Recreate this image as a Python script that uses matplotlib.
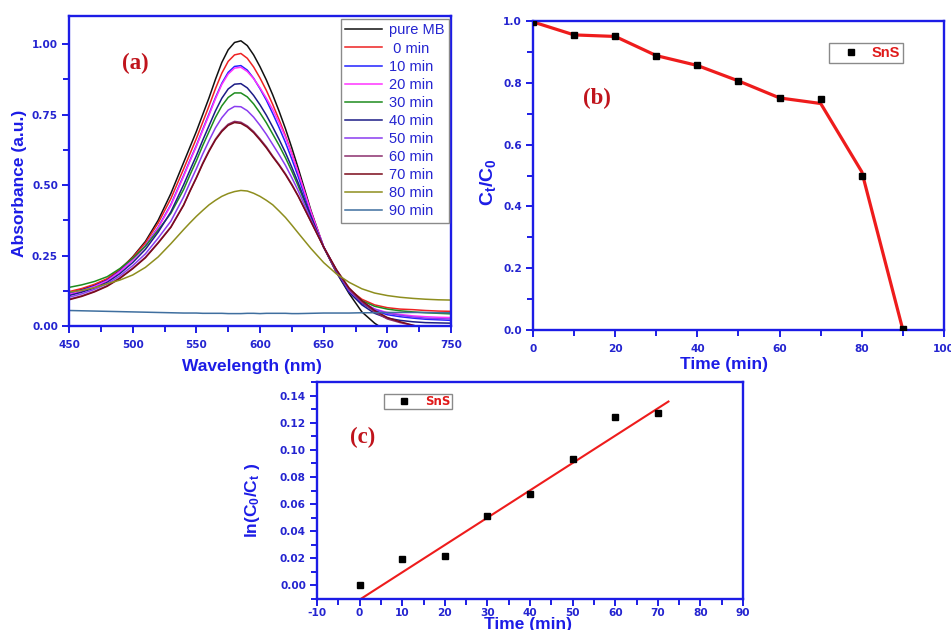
import matplotlib
matplotlib.use('Agg')
import matplotlib.pyplot as plt
from matplotlib.ticker import MultipleLocator, FormatStrFormatter
from matplotlib.lines import Line2D

# ---------------- data ----------------
# wavelengths read every 10 nm on the tails and every 5 nm around the band
wavelength = (list(range(450, 540, 10)) + list(range(540, 631, 5))
              + list(range(640, 751, 10)))
spectra_labels = ["pure MB", " 0 min", "10 min", "20 min", "30 min", "40 min",
                  "50 min", "60 min", "70 min", "80 min", "90 min"]
pure_mb = [0.118,0.13,0.145,0.165,0.20,0.245,0.30,0.375,0.47,
           0.58,0.635,0.69,0.75,0.81,0.875,0.935,0.98,1.006,1.012,0.995,0.962,0.92,0.873,0.82,0.762,0.70,0.632,0.56,
           0.41,0.28,0.19,0.115,0.05,0.01,-0.02,-0.04,-0.06,-0.07,-0.08,-0.09]
min_0 = [0.122,0.133,0.148,0.168,0.202,0.243,0.295,0.365,0.452,
         0.557,0.611,0.665,0.723,0.781,0.842,0.897,0.939,0.962,0.967,0.95,0.919,0.88,0.836,0.786,0.732,0.675,0.612,0.545,
         0.404,0.28,0.19,0.13,0.095,0.075,0.065,0.06,0.058,0.055,0.053,0.052]
min_10 = [0.116,0.127,0.142,0.162,0.195,0.236,0.285,0.35,0.431,
          0.534,0.588,0.64,0.697,0.753,0.81,0.861,0.90,0.921,0.924,0.908,0.879,0.842,0.801,0.754,0.704,0.651,0.592,0.53,
          0.398,0.28,0.193,0.12,0.08,0.055,0.04,0.033,0.028,0.024,0.022,0.02]
min_20 = [0.112,0.124,0.14,0.16,0.193,0.234,0.283,0.348,0.428,
          0.531,0.585,0.637,0.694,0.749,0.806,0.857,0.894,0.915,0.918,0.903,0.878,0.845,0.808,0.768,0.721,0.67,0.61,0.545,
          0.405,0.282,0.195,0.125,0.085,0.06,0.048,0.041,0.036,0.033,0.031,0.03]
min_30 = [0.137,0.146,0.158,0.175,0.204,0.24,0.283,0.34,0.40,
          0.484,0.536,0.586,0.64,0.69,0.74,0.781,0.811,0.827,0.827,0.813,0.788,0.756,0.721,0.681,0.641,0.597,0.549,0.497,
          0.385,0.28,0.196,0.13,0.09,0.07,0.06,0.054,0.05,0.047,0.045,0.043]
min_40 = [0.108,0.12,0.135,0.155,0.186,0.225,0.272,0.333,0.405,
          0.501,0.553,0.604,0.659,0.711,0.763,0.808,0.841,0.858,0.86,0.845,0.818,0.785,0.748,0.706,0.662,0.615,0.563,0.508,
          0.389,0.28,0.195,0.12,0.075,0.045,0.028,0.02,0.015,0.012,0.011,0.01]
min_50 = [0.102,0.114,0.13,0.15,0.178,0.214,0.256,0.312,0.372,
          0.458,0.509,0.558,0.61,0.658,0.703,0.739,0.766,0.779,0.778,0.764,0.741,0.712,0.68,0.644,0.608,0.57,0.526,0.48,
          0.378,0.28,0.198,0.125,0.085,0.06,0.045,0.038,0.032,0.028,0.026,0.025]
min_60 = [0.095,0.107,0.123,0.143,0.171,0.205,0.244,0.296,0.352,
          0.43,0.48,0.527,0.578,0.623,0.663,0.694,0.716,0.726,0.723,0.71,0.69,0.664,0.636,0.603,0.573,0.54,0.503,0.462,
          0.371,0.28,0.20,0.13,0.085,0.05,0.025,0.012,0.002,-0.005,-0.01,-0.012]
min_70 = [0.093,0.105,0.121,0.141,0.169,0.203,0.242,0.294,0.35,
          0.428,0.478,0.525,0.575,0.62,0.66,0.69,0.712,0.722,0.719,0.706,0.686,0.66,0.632,0.60,0.57,0.537,0.50,0.46,
          0.37,0.28,0.20,0.135,0.09,0.055,0.03,0.015,0.003,-0.008,-0.018,-0.028]
min_80 = [0.12,0.126,0.136,0.15,0.163,0.181,0.208,0.245,0.292,
          0.342,0.366,0.389,0.41,0.43,0.446,0.46,0.47,0.477,0.481,0.479,0.471,0.46,0.446,0.43,0.408,0.385,0.358,0.33,
          0.275,0.225,0.185,0.155,0.132,0.117,0.108,0.102,0.098,0.095,0.093,0.092]
min_90 = [0.055,0.054,0.053,0.052,0.051,0.050,0.049,0.048,0.047,
          0.046,0.046,0.046,0.045,0.045,0.045,0.045,0.044,0.044,0.044,0.045,0.045,0.044,0.045,0.045,0.045,0.045,0.044,0.044,
          0.045,0.046,0.046,0.046,0.047,0.047,0.048,0.048,0.048,0.048,0.047,0.047]

time_b = [0, 10, 20, 30, 40, 50, 60, 70, 80, 90]
ct_c0_points = [0.997, 0.955, 0.950, 0.888, 0.856, 0.806, 0.751, 0.746, 0.498, 0.002]
ct_c0_line = [0.997, 0.955, 0.950, 0.888, 0.856, 0.806, 0.751, 0.733, 0.512, 0.0]

time_c = [0, 10, 20, 30, 40, 50, 60, 70]
ln_c0_ct = [0.000, 0.0196, 0.022, 0.0509, 0.0673, 0.093, 0.1241, 0.1275]
fit_time = [0.0, 72.5]
fit_ln = [-0.0105, 0.1356]

# ---------------- style ----------------
BLUE = '#1c1ce6'
LBLUE = '#2424d0'
spectra = [pure_mb, min_0, min_10, min_20, min_30, min_40, min_50, min_60, min_70, min_80, min_90]
colors = ['#111111', '#ee2222', '#2222ff', '#ff33ff', '#1e8c1e', '#1c1c86',
          '#8a3cf0', '#8c2f6e', '#7a0a1a', '#8e8e1e', '#3f6f9f']

plt.rcParams['axes.unicode_minus'] = False
plt.rcParams['mathtext.fontset'] = 'custom'
plt.rcParams['mathtext.rm'] = 'Liberation Sans:bold'
plt.rcParams['mathtext.it'] = 'Liberation Sans:bold'
plt.rcParams['mathtext.bf'] = 'Liberation Sans:bold'

W, H = 951, 630
fig = plt.figure(figsize=(W / 100, H / 100), dpi=100)


def px_axes(l, t, r, b):
    return fig.add_axes([l / W, 1 - b / H, (r - l) / W, (b - t) / H])


def style(ax, xmaj, xmin, ymaj, ymin, yfmt, xpad=5):
    for s in ax.spines.values():
        s.set_color(BLUE)
        s.set_linewidth(1.7)
    ax.xaxis.set_major_locator(MultipleLocator(xmaj))
    ax.xaxis.set_minor_locator(MultipleLocator(xmin))
    ax.yaxis.set_major_locator(MultipleLocator(ymaj))
    ax.yaxis.set_minor_locator(MultipleLocator(ymin))
    ax.yaxis.set_major_formatter(FormatStrFormatter(yfmt))
    ax.tick_params(which='both', direction='out', color=BLUE, width=1.4,
                   top=False, right=False)
    ax.tick_params(which='major', length=5)
    ax.tick_params(which='minor', length=4.5)
    ax.tick_params(which='major', labelsize=7.6, labelcolor=LBLUE)
    ax.tick_params(axis='x', which='major', pad=xpad)
    ax.tick_params(axis='y', which='major', pad=3)
    for lab in ax.get_xticklabels() + ax.get_yticklabels():
        lab.set_fontweight('bold')
        lab.set_family('DejaVu Sans')


label_kw = dict(family='Liberation Sans', fontweight='bold', color=BLUE)
panel_kw = dict(family='Liberation Serif', fontweight='bold', color='#c0141c')

# ---------------- panel (a) ----------------
ax_a = px_axes(69, 16, 451, 326)
for vals, c, lab in zip(spectra, colors, spectra_labels):
    ax_a.plot(wavelength, vals, color=c, lw=1.1, label=lab)
ax_a.set_xlim(450, 750)
ax_a.set_ylim(0, 1.1)
style(ax_a, 50, 25, 0.25, 0.125, '%.2f')
ax_a.set_xlabel('Wavelength (nm)', fontsize=12.5, **label_kw)
ax_a.set_ylabel('Absorbance (a.u.)', fontsize=12.5, **label_kw)
ax_a.xaxis.set_label_coords(0.48, -0.107)
ax_a.yaxis.set_label_coords(-0.111, 0.46)
leg_a = ax_a.legend(loc='upper left', bbox_to_anchor=(0.712, 0.99), frameon=True,
                    fancybox=False, edgecolor='#8a8a8a', framealpha=1,
                    prop={'family': 'Liberation Sans', 'size': 10.5},
                    handlelength=2.5, handletextpad=0.5, labelspacing=0.28,
                    borderpad=0.3, borderaxespad=0)
leg_a.get_frame().set_linewidth(1.0)
for t in leg_a.get_texts():
    t.set_color(LBLUE)
ax_a.text(0.14, 0.829, '(a)', transform=ax_a.transAxes, fontsize=16.5, **panel_kw)

# ---------------- panel (b) ----------------
ax_b = px_axes(533, 21, 944, 330)
ax_b.plot(time_b, ct_c0_line, color='#ee1c1c', lw=2.3, zorder=2)
ax_b.plot(time_b, ct_c0_points, ls='none', marker='s', ms=4.5, color='black', zorder=3)
ax_b.set_xlim(0, 100)
ax_b.set_ylim(0, 1.0)
style(ax_b, 20, 10, 0.2, 0.1, '%.1f')
ax_b.set_xlabel('Time (min)', fontsize=12.5, **label_kw)
ax_b.set_ylabel(r'C$_t$/C$_0$', fontsize=14, **label_kw)
ax_b.xaxis.set_label_coords(0.465, -0.087)
ax_b.yaxis.set_label_coords(-0.085, 0.48)
h_b = Line2D([], [], ls='none', marker='s', ms=4.5, color='black')
leg_b = ax_b.legend([h_b], ['SnS'], loc='upper left', bbox_to_anchor=(0.72, 0.929),
                    frameon=True, fancybox=False, edgecolor='#8a8a8a', framealpha=1,
                    prop={'family': 'Liberation Sans', 'size': 10.5, 'weight': 'bold'},
                    handlelength=2.6, handletextpad=0.15, borderpad=0.2, borderaxespad=0)
leg_b.get_frame().set_linewidth(1.0)
for t in leg_b.get_texts():
    t.set_color('#e01a1a')
ax_b.text(0.122, 0.731, '(b)', transform=ax_b.transAxes, fontsize=16.5, **panel_kw)

# ---------------- panel (c) ----------------
ax_c = px_axes(317, 382, 743, 599)
ax_c.plot(fit_time, fit_ln, color='#ee1c1c', lw=1.5, zorder=2)
ax_c.plot(time_c, ln_c0_ct, ls='none', marker='s', ms=4.5, color='black', zorder=3)
ax_c.set_xlim(-10, 90)
ax_c.set_ylim(-0.01, 0.15)
style(ax_c, 10, 5, 0.02, 0.01, '%.2f', xpad=1.5)
ax_c.set_xlabel('Time (min)', fontsize=12.5, **label_kw)
ax_c.set_ylabel(r'ln(C$_0$/C$_t$ )', fontsize=12.5, **label_kw)
ax_c.xaxis.set_label_coords(0.495, -0.083)
ax_c.yaxis.set_label_coords(-0.129, 0.456)
h_c = Line2D([], [], ls='none', marker='s', ms=4.0, color='black')
leg_c = ax_c.legend([h_c], ['SnS'], loc='upper left', bbox_to_anchor=(0.157, 0.945),
                    frameon=True, fancybox=False, edgecolor='#8a8a8a', framealpha=1,
                    prop={'family': 'DejaVu Sans', 'size': 8.5, 'weight': 'bold'},
                    handlelength=3.2, handletextpad=0.2, borderpad=0.1, borderaxespad=0)
leg_c.get_frame().set_linewidth(1.0)
for t in leg_c.get_texts():
    t.set_color('#e01a1a')
ax_c.text(0.077, 0.719, '(c)', transform=ax_c.transAxes, fontsize=16.5, **panel_kw)

fig.savefig('out.png', dpi=100)
